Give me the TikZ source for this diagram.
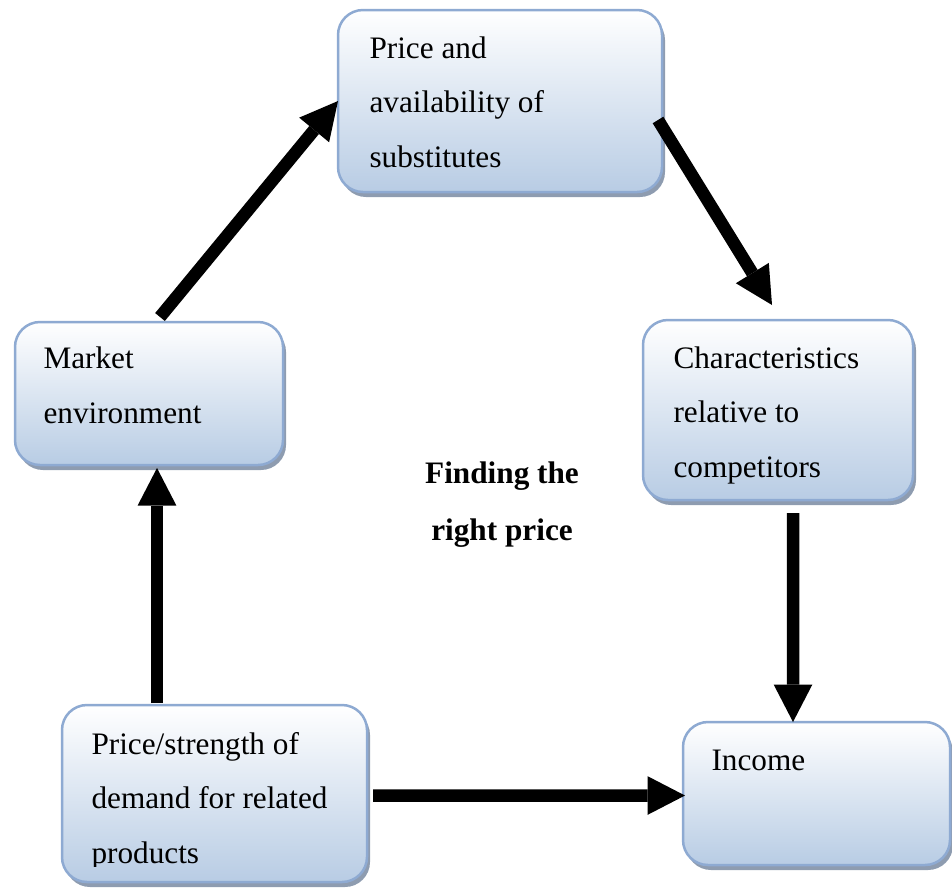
\documentclass[tikz,border=0pt]{standalone}
\usepackage{fontspec}
\setmainfont{Liberation Serif}
\usetikzlibrary{arrows.meta,calc}
\definecolor{boxline}{HTML}{8EAAD2}
\definecolor{boxfill}{HTML}{B8CCE4}
\definecolor{boxshade}{HTML}{8E9CB0}
\begin{document}
\begin{tikzpicture}[x=0.4pt,y=-0.4pt,
  box/.style={draw=boxline, line width=1pt, rounded corners=10pt,
    top color=white, bottom color=boxfill, anchor=north west,
    inner sep=0pt, outer sep=0pt,
    preaction={fill=boxshade, transform canvas={xshift=1.2pt,yshift=-2pt}}},
  label/.style={anchor=base west, inner sep=0pt, align=left,
    font=\fontsize{12.5}{21.8}\selectfont},
  conn/.style={line width=5pt,
    -{Triangle[width=15.5pt,length=15pt,line width=0pt]}},
]
\useasboundingbox (0,0) rectangle (952,888);

% boxes
\node[box, minimum width=129.6pt, minimum height=72.8pt] (price) at (338,10) {};
\node[box, minimum width=107.2pt, minimum height=57.2pt] (market) at (15,322) {};
\node[box, minimum width=108pt, minimum height=72pt] (char) at (643,320) {};
\node[box, minimum width=122pt, minimum height=70.8pt] (related) at (62,705) {};
\node[box, minimum width=106.8pt, minimum height=57.2pt] (income) at (683,722) {};

% box texts (anchored at the baseline of their last line)
\node[label] (tprice) at (369,167) {Price and\\availability of\\substitutes};
\node[label] (tmarket) at (43,423) {Market\\environment};
\node[label] (tchar) at (673,477) {Characteristics\\relative to\\competitors};
\begin{scope}
  \clip (62,705) rectangle (367,866);
  \node[label] (trelated) at (91,863) {Price/strength of\\demand for related\\products};
\end{scope}
\node[label] (tincome) at (711,770) {Income};

% centre title
\node[anchor=base, inner sep=0pt, align=center,
  font=\fontsize{12.5}{22.6}\selectfont\bfseries] (title) at (502,540)
  {Finding the\\right price};

% connectors
\draw[conn] ($(market.north west)+(145,-5)$) -- (price.west);
\draw[conn] ($(price.north east)+(-4,110)$) -- ($(char.north)+(-6,-15)$);
\draw[conn] ($(char.south)+(15,13)$) -- ($(income.north west)+(110,0)$);
\draw[conn] ($(related.north west)+(95,-2)$) -- ($(market.south west)+(142,3)$);
\draw[conn] ($(related.east)+(6,2)$) -- ($(income.west)+(2,2)$);
\end{tikzpicture}
\end{document}
